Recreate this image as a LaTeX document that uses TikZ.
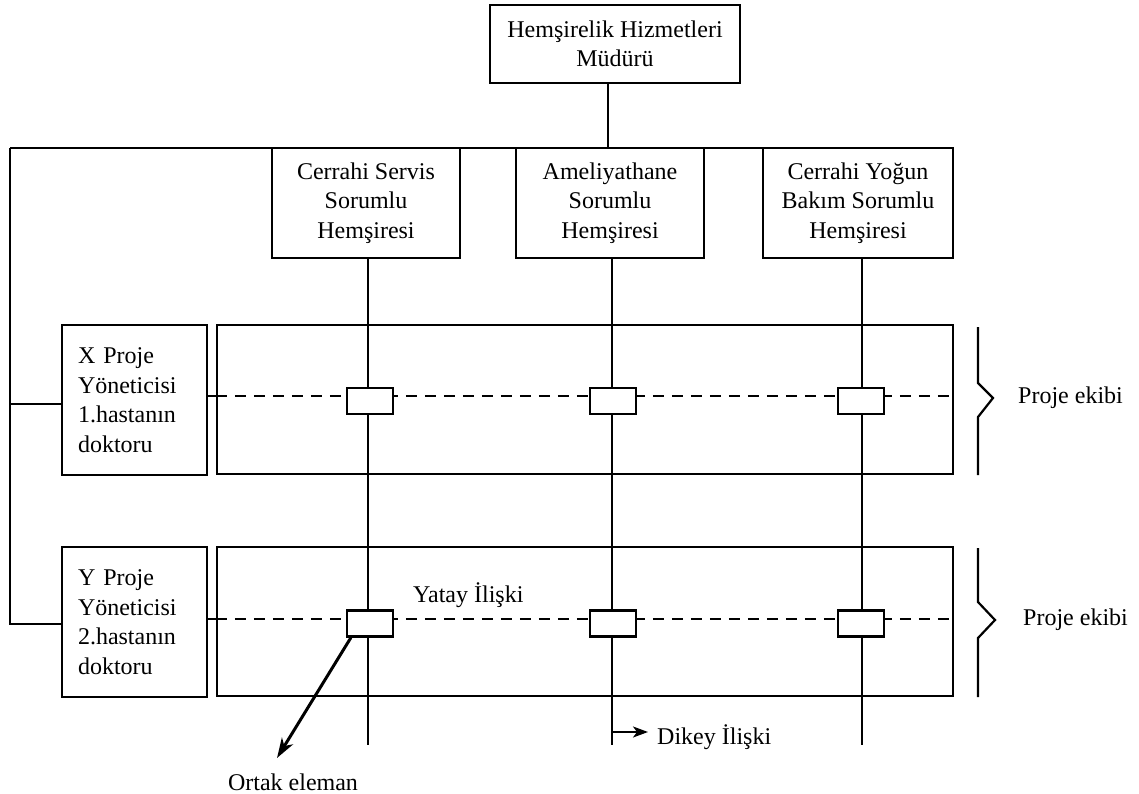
\documentclass[tikz,border=0pt]{standalone}
\usepackage{fontspec}
\setmainfont{Liberation Serif}
\usetikzlibrary{arrows.meta,calc}
\begin{document}
\begin{tikzpicture}[x=1pt,y=-1pt,
  every node/.style={font=\fontsize{24}{29.5}\selectfont},
  box/.style={draw,line width=2.2pt,inner sep=0pt,align=center,fill=white},
  pmbox/.style={box,align=left,text width=113pt,inner xsep=16pt,minimum width=145pt,minimum height=150pt},
  frame/.style={draw,line width=2.2pt,inner sep=0pt},
  link/.style={line width=2.2pt},
  dash line/.style={line width=2.4pt,dash pattern=on 11pt off 8pt},
  cell/.style={draw,line width=2.2pt,fill=white,minimum width=46pt,minimum height=26pt,inner sep=0pt},
  lbl/.style={inner sep=0pt,anchor=west}
]
\useasboundingbox[fill=white] (0,0) rectangle (1139,794);

% bus and management line
\coordinate (busL) at (10,148);
\coordinate (busR) at (953,148);
\draw[link] (busR) -- (busL);

% director
\node[box,minimum width=250pt,minimum height=78pt] (mgr) at (615,44) {Hemşirelik Hizmetleri\\Müdürü};
\draw[link] ($(mgr.south)+(-7,0)$) coordinate (m0) -- (m0 |- busL);

% department heads
\node[box,minimum width=188pt,minimum height=110pt] (s1) at (366,203) {Cerrahi Servis\\Sorumlu\\Hemşiresi};
\node[box,minimum width=188pt,minimum height=110pt] (s2) at (610,203) {Ameliyathane\\Sorumlu\\Hemşiresi};
\node[box,minimum width=190pt,minimum height=110pt] (s3) at (858,203) {Cerrahi Yoğun\\Bakım Sorumlu\\Hemşiresi};

% project managers
\node[pmbox] (px) at (134.5,400) {X Proje\\Yöneticisi\\1.hastanın\\doktoru};
\node[pmbox] (py) at (134.5,622) {Y Proje\\Yöneticisi\\2.hastanın\\doktoru};
\draw[link] (busL) |- ($(py.west)+(0,2)$);
\draw[link] (busL |- 0,404) -- ($(px.west)+(0,4)$);

% project team frames
\node[frame,minimum width=736pt,minimum height=149pt] (tx) at (585,399.5) {};
\node[frame,minimum width=736pt,minimum height=149pt] (ty) at (585,621.5) {};

% vertical (line) relations
\coordinate (v1) at (368,745);
\coordinate (v2) at (612,745);
\coordinate (v3) at (862,745);
\draw[link] (s1.south -| v1) -- (v1);
\draw[link] (s2.south -| v2) -- (v2);
\draw[link] (s3.south -| v3) -- (v3);

% horizontal (project) relations
\coordinate (dx) at (953,396);
\coordinate (dy) at (953,619);
\draw[link] (px.east |- dx) -- (tx.west |- dx);
\draw[dash line] (tx.west |- dx) -- (dx);
\draw[link] (py.east |- dy) -- (ty.west |- dy);
\draw[dash line] (ty.west |- dy) -- (dy);

% shared members
\node[cell] (c11) at (370,401) {};
\node[cell] (c12) at (613,401) {};
\node[cell] (c13) at (861,401) {};
\node[cell] (c21) at (370,623.5) {};
\node[cell] (c22) at (613,623.5) {};
\node[cell] (c23) at (861,623.5) {};

% labels
\node[lbl] (yatay) at (413,595) {Yatay İlişki};
\node (ortak) at (293,782) {Ortak eleman};
\coordinate (otip) at (277,758);
\draw[line width=3pt,-{Stealth[length=20pt,width=13pt,inset=6pt]}] ($(c21.south west)+(5,0)$) -- (otip);

\coordinate (dk) at (648,732);
\draw[line width=1.8pt,-{Stealth[length=15pt,width=11pt,inset=4pt]}] (v2 |- dk) -- (dk);
\node[lbl] (dikey) at (657,737) {Dikey İlişki};

% team braces
\draw[link] (978,327) -- (978,383) -- (993,398) -- (978,417) -- (978,475);
\node[lbl] (pe1) at (1018,398) {Proje ekibi};
\draw[link] (978,548) -- (978,602) -- (995,620) -- (978,638) -- (978,697);
\node[lbl] (pe2) at (1023,620) {Proje ekibi};
\end{tikzpicture}
\end{document}
